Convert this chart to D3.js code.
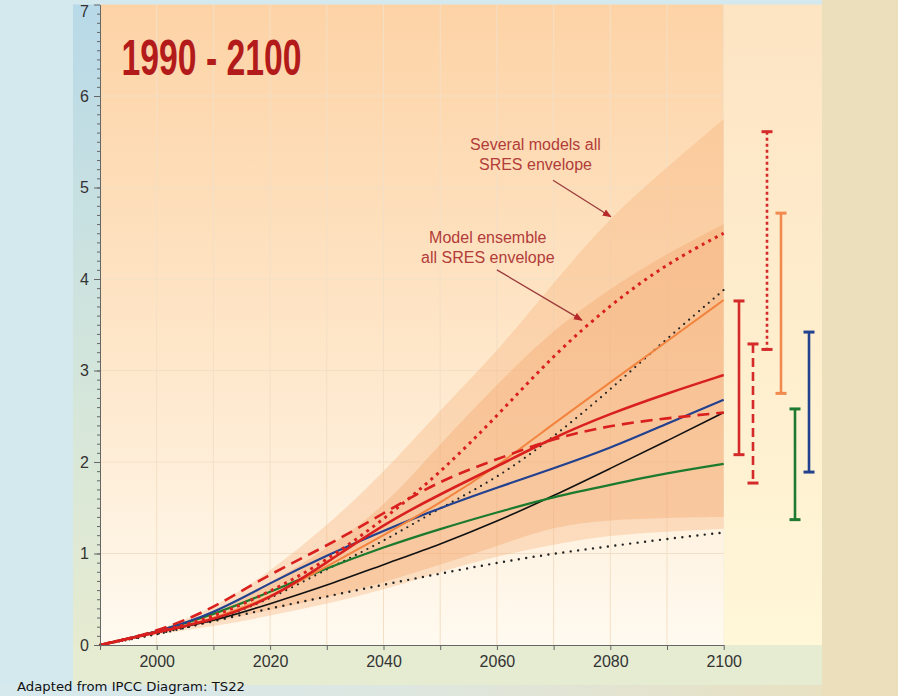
<!DOCTYPE html>
<html>
<head>
<meta charset="utf-8">
<script src="https://cdn.jsdelivr.net/npm/d3@7"></script>
<style>
  body { margin: 0; }
  svg { display: block; }
</style>
</head>
<body>
<div id="chart"></div>
<script>
// Global temperature change (°C) 1990 - 2100, SRES scenarios
var years = [1990, 2000, 2010, 2020, 2030, 2040, 2050, 2060, 2070, 2080, 2090, 2100];

var a1fi  = [0, 0.14, 0.30, 0.58, 0.92, 1.37, 1.88, 2.50, 3.17, 3.72, 4.17, 4.50];
var a1b   = [0, 0.14, 0.27, 0.50, 0.90, 1.32, 1.65, 1.95, 2.27, 2.53, 2.75, 2.95];
var a1t   = [0, 0.14, 0.40, 0.78, 1.08, 1.44, 1.80, 2.03, 2.26, 2.40, 2.48, 2.54];
var a2    = [0, 0.14, 0.28, 0.52, 0.86, 1.20, 1.55, 1.95, 2.42, 2.87, 3.32, 3.77];
var b1    = [0, 0.14, 0.33, 0.58, 0.84, 1.07, 1.27, 1.45, 1.62, 1.75, 1.88, 1.98];
var b2    = [0, 0.14, 0.34, 0.68, 0.98, 1.25, 1.50, 1.72, 1.93, 2.15, 2.42, 2.68];
var is92a = [0, 0.14, 0.26, 0.45, 0.65, 0.88, 1.10, 1.35, 1.63, 1.93, 2.23, 2.54];
var is92hi = [0, 0.11, 0.26, 0.50, 0.83, 1.13, 1.50, 1.82, 2.27, 2.79, 3.35, 3.88];
var is92lo = [0, 0.12, 0.26, 0.40, 0.53, 0.66, 0.78, 0.90, 1.00, 1.08, 1.16, 1.23];

// envelopes
var outerHi = [0, 0.15, 0.40, 0.80, 1.30, 1.88, 2.57, 3.20, 3.96, 4.68, 5.22, 5.75];
var outerLo = [0, 0.12, 0.20, 0.32, 0.45, 0.60, 0.80, 0.97, 1.10, 1.20, 1.24, 1.27];
var innerHi = [0, 0.14, 0.35, 0.68, 1.05, 1.50, 2.20, 2.85, 3.45, 3.90, 4.28, 4.60];
var innerLo = [0, 0.13, 0.25, 0.38, 0.52, 0.68, 0.88, 1.08, 1.30, 1.37, 1.39, 1.40];

// ranges in 2100 (bars at the right)
var barNames = ["A1B", "A1T", "A1FI", "A2", "B1", "B2"];
var barLow   = [2.08, 1.77, 3.23, 2.75, 1.37, 1.89];
var barHigh  = [3.76, 3.29, 5.61, 4.72, 2.58, 3.42];

var yTicks = [0, 1, 2, 3, 4, 5, 6, 7];
var xLabels = [2000, 2020, 2040, 2060, 2080, 2100];

var width = 898, height = 696;

var svg = d3.select("#chart")
  .append("svg")
    .attr("width", width)
    .attr("height", height);

var x = d3.scaleLinear().domain([1990, 2100]).range([100, 723.7]);
var y = d3.scaleLinear().domain([0, 7]).range([645, 4.5]);

var defs = svg.append("defs");
function grad(id, stops, horiz) {
  var g = defs.append("linearGradient").attr("id", id)
    .attr("x1", 0).attr("y1", 0)
    .attr("x2", horiz ? 1 : 0).attr("y2", horiz ? 0 : 1);
  stops.forEach(function(s) {
    g.append("stop").attr("offset", s[0]).attr("stop-color", s[1]);
  });
}
grad("plotBg", [[0, "#fdd3a6"], [0.5, "#fee5c6"], [1, "#fffaf0"]]);
grad("rightBg", [[0, "#fde4c3"], [1, "#fff7d8"]]);
grad("axisBg", [[0, "#b8d9e8"], [0.55, "#d2e5dc"], [1, "#e6ebd0"]]);
grad("bottomBg", [[0, "#d6e9ed"], [0.45, "#dde7e2"], [1, "#e8e1c2"]], true);

var x0 = x(1990), x1 = x(2100), yTop = y(7), yBot = y(0);

// background panels
svg.append("rect").attr("width", width).attr("height", height).attr("fill", "#d4e9ee");
svg.append("rect").attr("x", 822).attr("y", 0).attr("width", width - 822).attr("height", height).attr("fill", "#ece0bc");
svg.append("rect").attr("x", 73).attr("y", yTop).attr("width", x0 - 73).attr("height", yBot - yTop).attr("fill", "url(#axisBg)");
svg.append("rect").attr("x", x0).attr("y", yTop).attr("width", x1 - x0).attr("height", yBot - yTop).attr("fill", "url(#plotBg)");
svg.append("rect").attr("x", x1).attr("y", yTop).attr("width", 822 - x1).attr("height", yBot - yTop).attr("fill", "url(#rightBg)");
svg.append("rect").attr("x", 73).attr("y", yBot).attr("width", 822 - 73).attr("height", 40).attr("fill", "#e5ecd2");
svg.append("rect").attr("x", 0).attr("y", yBot + 40).attr("width", 822).attr("height", height - yBot - 40).attr("fill", "url(#bottomBg)");

// grid
var grid = svg.append("g").attr("stroke", "#f3dfc6").attr("stroke-width", 1);
grid.selectAll("line.v").data(d3.range(2000, 2100, 10)).enter().append("line")
  .attr("x1", function(d) { return x(d); }).attr("x2", function(d) { return x(d); })
  .attr("y1", yTop).attr("y2", yBot);
grid.selectAll("line.h").data(yTicks.slice(1, 7)).enter().append("line")
  .attr("x1", x0).attr("x2", x1)
  .attr("y1", function(d) { return y(d); }).attr("y2", function(d) { return y(d); });

// envelopes
function band(hi, lo) {
  return d3.area()
    .x(function(d, i) { return x(years[i]); })
    .y0(function(d, i) { return y(lo[i]); })
    .y1(function(d) { return y(d); })
    .curve(d3.curveBasis)(hi);
}
svg.append("path").attr("d", band(outerHi, outerLo)).attr("fill", "#f6ad72").attr("opacity", 0.33);
svg.append("path").attr("d", band(innerHi, innerLo)).attr("fill", "#f29c5c").attr("opacity", 0.3);

// scenario lines
var line = d3.line()
  .x(function(d, i) { return x(years[i]); })
  .y(function(d) { return y(d); })
  .curve(d3.curveBasis);

var series = [
  { v: is92lo, c: "#222", w: 2.4, dash: "0,7.5", cap: "round" },
  { v: is92hi, c: "#222", w: 2.2, dash: "0,6.5", cap: "round" },
  { v: is92a, c: "#111", w: 1.6 },
  { v: b1, c: "#1b7a2e", w: 2.2 },
  { v: b2, c: "#22418f", w: 2.2 },
  { v: a2, c: "#f3843f", w: 2.0 },
  { v: a1b, c: "#d9201f", w: 2.6 },
  { v: a1t, c: "#d9201f", w: 2.6, dash: "12,7" },
  { v: a1fi, c: "#d9201f", w: 3, dash: "3,4.5" }
];
svg.append("g").selectAll("path").data(series).enter().append("path")
  .attr("d", function(d) { return line(d.v); })
  .attr("fill", "none")
  .attr("stroke", function(d) { return d.c; })
  .attr("stroke-width", function(d) { return d.w; })
  .attr("stroke-dasharray", function(d) { return d.dash || null; })
  .attr("stroke-linecap", function(d) { return d.cap || "butt"; });

// range bars
var bx = d3.scalePoint().domain(barNames).range([739, 809]);
var barStyle = {
  A1B:  { c: "#d42a2a" },
  A1T:  { c: "#d42a2a", dash: "9,5" },
  A1FI: { c: "#d42a2a", dash: "3,3" },
  A2:   { c: "#f08a4e" },
  B1:   { c: "#1d7a30" },
  B2:   { c: "#22418f" }
};
var bars = svg.append("g").selectAll("g").data(barNames).enter().append("g")
  .attr("stroke", function(d) { return barStyle[d].c; })
  .attr("stroke-width", 2.6);
bars.append("line")
  .attr("x1", function(d) { return bx(d); }).attr("x2", function(d) { return bx(d); })
  .attr("y1", function(d, i) { return y(barHigh[i]); })
  .attr("y2", function(d, i) { return y(barLow[i]); })
  .attr("stroke-dasharray", function(d) { return barStyle[d].dash || null; });
[barHigh, barLow].forEach(function(arr) {
  bars.append("line")
    .attr("x1", function(d) { return bx(d) - 5.5; }).attr("x2", function(d) { return bx(d) + 5.5; })
    .attr("y1", function(d, i) { return y(arr[i]); })
    .attr("y2", function(d, i) { return y(arr[i]); })
    .attr("stroke-width", 3);
});

// axes
var yAxisMinor = d3.axisLeft(y).tickValues(d3.range(0, 70).map(function(d) { return d / 10; }))
  .tickSize(3).tickSizeOuter(0).tickFormat("");
var yAxis = d3.axisLeft(y).tickValues(yTicks).tickSize(6).tickSizeOuter(0).tickPadding(5)
  .tickFormat(d3.format("d"));
var xAxis = d3.axisBottom(x).tickValues(d3.range(1990, 2101, 10)).tickSize(5).tickSizeOuter(0)
  .tickPadding(6)
  .tickFormat(function(d) { return xLabels.indexOf(d) >= 0 ? d : ""; });

function styleAxis(g) {
  g.selectAll("path, line").attr("stroke", "#666");
  g.selectAll("text").attr("fill", "#333")
    .style("font-family", "'Liberation Sans', Arial, sans-serif").style("font-size", "16px");
}
svg.append("g").attr("transform", "translate(" + x0 + ",0)").call(yAxisMinor).call(styleAxis);
svg.append("g").attr("transform", "translate(" + x0 + ",0)").call(yAxis).call(styleAxis)
  .selectAll("text").filter(function(d) { return d === 7; }).attr("dy", "0.72em");
svg.append("g").attr("transform", "translate(0," + yBot + ")").call(xAxis).call(styleAxis);

// title
svg.append("text")
  .attr("x", x(1993.8)).attr("y", y(6.23))
  .attr("textLength", 180).attr("lengthAdjust", "spacingAndGlyphs")
  .attr("fill", "#b31b1b")
  .style("font-family", "'Liberation Sans Narrow', 'Liberation Sans', Arial, sans-serif")
  .style("font-weight", "bold").style("font-size", "50px")
  .text("1990 - 2100");

// annotations
var noteColor = "#b23c3a";
defs.append("marker")
  .attr("id", "arrow").attr("viewBox", "0 0 10 10")
  .attr("refX", 9).attr("refY", 5)
  .attr("markerWidth", 9).attr("markerHeight", 9)
  .attr("markerUnits", "userSpaceOnUse")
  .attr("orient", "auto")
  .append("path").attr("d", "M0,1 L10,5 L0,9 Z").attr("fill", "#b8282a");

var notes = [
  { lines: ["Several models all", "SRES envelope"], at: [2066.8, 5.41], from: [2069.9, 5.08], to: [2080.1, 4.68] },
  { lines: ["Model ensemble", "all SRES envelope"], at: [2058.4, 4.39], from: [2060.0, 4.10], to: [2075.0, 3.55] }
];
notes.forEach(function(n) {
  var t = svg.append("text")
    .attr("text-anchor", "middle")
    .attr("fill", noteColor)
    .style("font-family", "'Liberation Sans Narrow', 'Liberation Sans', Arial, sans-serif")
    .style("font-size", "16px");
  n.lines.forEach(function(s, i) {
    t.append("tspan").attr("x", x(n.at[0])).attr("y", y(n.at[1]) + i * 20).text(s);
  });
  svg.append("line")
    .attr("x1", x(n.from[0])).attr("y1", y(n.from[1]))
    .attr("x2", x(n.to[0])).attr("y2", y(n.to[1]))
    .attr("stroke", "#9a3a3a").attr("stroke-width", 1.3)
    .attr("marker-end", "url(#arrow)");
});

// source caption
svg.append("text")
  .attr("x", 17).attr("y", 691)
  .attr("textLength", 228).attr("lengthAdjust", "spacingAndGlyphs")
  .attr("fill", "#111")
  .style("font-family", "'DejaVu Sans', Verdana, sans-serif")
  .style("font-size", "13px")
  .text("Adapted from IPCC Diagram: TS22");
</script>
</body>
</html>
